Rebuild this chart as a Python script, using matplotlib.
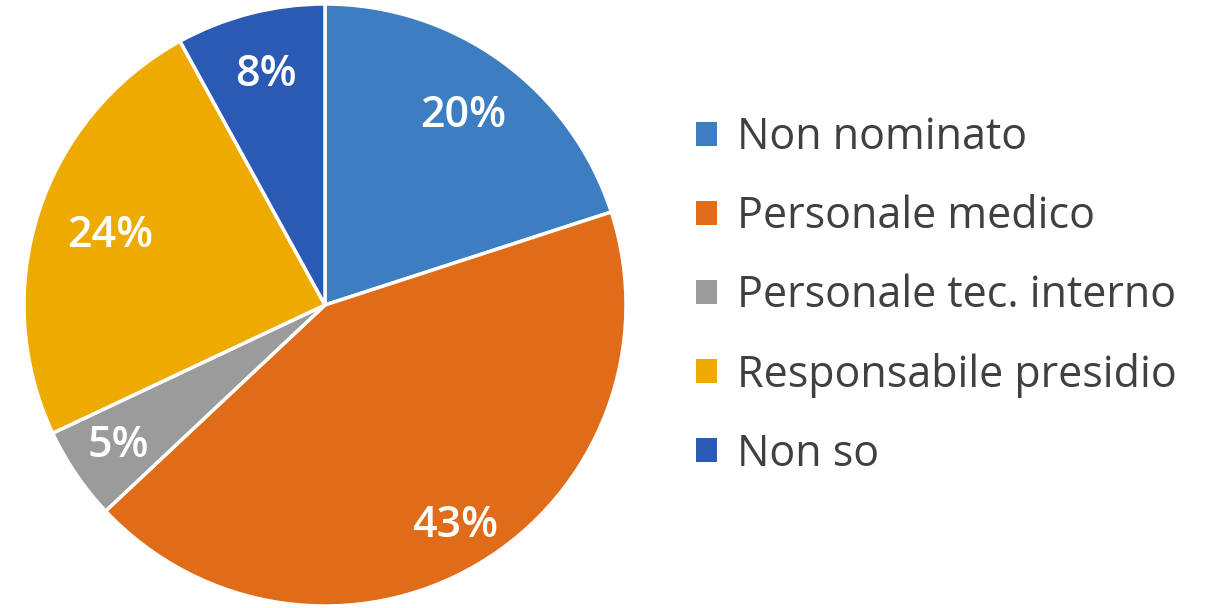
import matplotlib
matplotlib.use("Agg")
import matplotlib.pyplot as plt
from matplotlib.patches import Patch

categories = ["Non nominato", "Personale medico", "Personale tec. interno",
              "Responsabile presidio", "Non so"]
shares = [20, 43, 5, 24, 8]
colors = ["#3D7EC2", "#E06B18", "#9B9B9B", "#EDAB00", "#2A5AB4"]
label_radius = [0.78, 0.85, 0.83, 0.75, 0.79]

plt.rcParams["font.family"] = ["Open Sans", "DejaVu Sans"]

W, H = 1207, 608
fig = plt.figure(figsize=(W / 100, H / 100), dpi=100)
fig.patch.set_facecolor("white")

R = 301
cx, cy = 325, 305
ax = fig.add_axes([(cx - R) / W, (H - cy - R) / H, 2 * R / W, 2 * R / H])
ax.axis("off")

wedges, texts, autotexts = ax.pie(
    shares, colors=colors, startangle=90, counterclock=False, radius=1,
    autopct=lambda p: f"{p:.0f}%", pctdistance=0.8,
    wedgeprops=dict(edgecolor="white", linewidth=2.5),
    textprops=dict(color="white", fontsize=31, fontweight="semibold"),
)
ax.set_xlim(-1, 1)
ax.set_ylim(-1, 1)
ax.set_aspect("equal")
for t, r in zip(autotexts, label_radius):
    x, y = t.get_position()
    s = r / 0.8
    t.set_position((x * s, y * s))

handles = [Patch(facecolor=c, edgecolor="none") for c in colors]
fig.legend(handles, categories, loc="upper left",
           bbox_to_anchor=(657 / W, 1 - 77 / H), frameon=False,
           fontsize=31, labelcolor="#404040",
           handlelength=0.49, handleheight=0.49, handletextpad=0.47,
           labelspacing=0.8)

fig.savefig("out.png", dpi=100, facecolor="white")
